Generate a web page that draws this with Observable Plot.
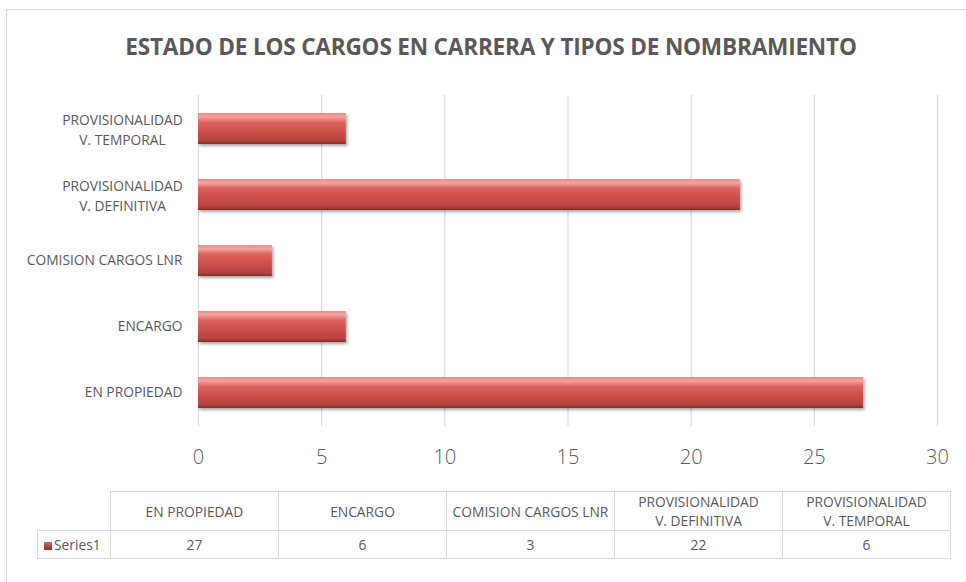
<!DOCTYPE html>
<html><head><meta charset="utf-8">
<script src="https://cdn.jsdelivr.net/npm/d3@7"></script>
<script src="https://cdn.jsdelivr.net/npm/@observablehq/plot@0.6"></script>
<style>
body{margin:0;background:#fff;font-family:"Open Sans",sans-serif;}
#wrap{position:relative;width:966px;height:582px;overflow:hidden;background:#fff;}
#frame{position:absolute;left:6px;top:9px;width:1000px;height:1000px;border:1.5px solid #d9d9d9;box-sizing:border-box;}
#title{position:absolute;top:31px;left:0;width:982px;text-align:center;font-weight:bold;font-size:22.6px;color:#595959;white-space:nowrap;letter-spacing:-0.2px;}
#chart{position:absolute;left:0;top:0;}
#tbl{position:absolute;left:37px;top:491px;border-collapse:collapse;table-layout:fixed;font-size:13.8px;color:#595959;}
#tbl td{border:1.5px solid #d9d9d9;text-align:center;padding:0;line-height:19px;}
#tbl td.empty{border-top:none;border-left:none;}
#tbl tr.head td{height:38px;}
#tbl tr.vals td{height:27px;}
#tbl td.ser{text-align:left;padding-left:6px;}
.key{display:inline-block;width:8px;height:8px;margin-right:2px;background:linear-gradient(#d06a66,#8e2f2c);vertical-align:0px;}
</style></head>
<body>
<div id="wrap">
  <div id="frame"></div>
  <div id="title"></div>
  <div id="chart"></div>
  <table id="tbl"></table>
</div>
<script>
const titleText = "ESTADO DE LOS CARGOS EN CARRERA Y TIPOS DE NOMBRAMIENTO";
const categories = ["EN PROPIEDAD", "ENCARGO", "COMISION CARGOS LNR", "PROVISIONALIDAD\nV. DEFINITIVA", "PROVISIONALIDAD\nV. TEMPORAL"];
const values = [27, 6, 3, 22, 6];
const xTicks = [0, 5, 10, 15, 20, 25, 30];
const seriesName = "Series1";

document.getElementById("title").textContent = titleText;

const data = categories.map((c, i) => ({cat: c, value: values[i], multi: c.includes("\n")}));
const domainY = categories.slice().reverse();

const plot = Plot.plot({
  width: 966,
  height: 480,
  marginLeft: 198,
  marginRight: 29,
  marginTop: 95,
  marginBottom: 54,
  style: {fontFamily: "'Open Sans', sans-serif", color: "#595959", background: "transparent"},
  x: {domain: [0, 30], label: null},
  y: {domain: domainY, paddingInner: 0.53, paddingOuter: 0.265, axis: null, label: null},
  marks: [
    Plot.gridX(xTicks, {stroke: "#d9d9d9", strokeOpacity: 1, strokeWidth: 1.2}),
    Plot.barX(data, {x: "value", y: "cat", fill: "#c0504d"}),
    Plot.axisX(xTicks, {tickSize: 0, tickPadding: 23, fontSize: 20, fill: "#595959", fontWeight: 300, label: null, tickFormat: d => String(d)}),
    Plot.text(data.filter(d => !d.multi), {y: "cat", text: "cat", frameAnchor: "left", textAnchor: "end", dx: -16, fontSize: 13.8, fill: "#595959"}),
    Plot.text(data.filter(d => d.multi), {y: "cat", text: "cat", frameAnchor: "left", textAnchor: "middle", dx: -76, fontSize: 13.8, lineHeight: 1.45, fill: "#595959"})
  ]
});

// gradient definitions for the bevelled bars
const svg = d3.select(plot);
const defs = svg.insert("defs", ":first-child");
const g = defs.append("linearGradient").attr("id", "barGrad").attr("x1", 0).attr("y1", 0).attr("x2", 0).attr("y2", 1);
[[0, "#e98a87"], [0.12, "#f4a5a2"], [0.3, "#dc625e"], [0.6, "#cc4f4b"], [0.88, "#b8443f"], [1, "#8a2c29"]]
  .forEach(([o, c]) => g.append("stop").attr("offset", o).attr("stop-color", c));
const f = defs.append("filter").attr("id", "shadow").attr("x", "-5%").attr("y", "-20%").attr("width", "115%").attr("height", "160%");
f.append("feDropShadow").attr("dx", 1.5).attr("dy", 2).attr("stdDeviation", 1.5).attr("flood-color", "#000").attr("flood-opacity", 0.35);
svg.selectAll("g[aria-label='bar'] rect").attr("fill", "url(#barGrad)").attr("filter", "url(#shadow)");

document.getElementById("chart").appendChild(plot);

// data table
const tbl = d3.select("#tbl");
const cg = tbl.append("colgroup");
cg.append("col").style("width", "73px");
categories.forEach(() => cg.append("col").style("width", "168px"));
const head = tbl.append("tr").attr("class", "head");
head.append("td").attr("class", "empty");
categories.forEach(c => head.append("td").html(c.split("\n").join("<br>")));
const row = tbl.append("tr").attr("class", "vals");
row.append("td").attr("class", "ser").html('<span class="key"></span>' + seriesName);
values.forEach(v => row.append("td").text(v));
</script>
</body></html>
